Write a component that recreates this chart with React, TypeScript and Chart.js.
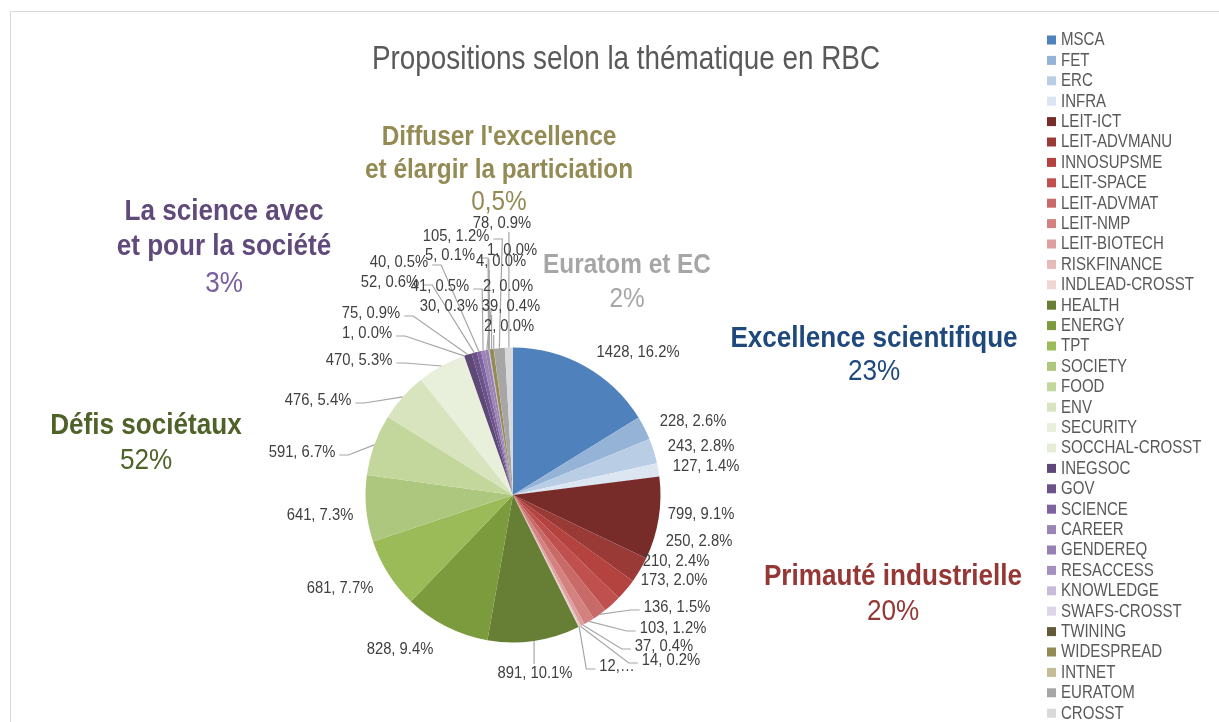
import React, { useEffect, useRef } from "react";
import { Chart, registerables } from "chart.js";

Chart.register(...registerables);

// ---------- DATA ----------
const categories = [
  "MSCA", "FET", "ERC", "INFRA",
  "LEIT-ICT", "LEIT-ADVMANU", "INNOSUPSME", "LEIT-SPACE", "LEIT-ADVMAT", "LEIT-NMP", "LEIT-BIOTECH", "RISKFINANCE", "INDLEAD-CROSST",
  "HEALTH", "ENERGY", "TPT", "SOCIETY", "FOOD", "ENV", "SECURITY", "SOCCHAL-CROSST",
  "INEGSOC", "GOV", "SCIENCE", "CAREER", "GENDEREQ", "RESACCESS", "KNOWLEDGE", "SWAFS-CROSST",
  "TWINING", "WIDESPREAD", "INTNET",
  "EURATOM", "CROSST",
];

const values = [
  1428, 228, 243, 127,
  799, 250, 210, 173, 136, 103, 37, 14, 12,
  891, 828, 681, 641, 591, 476, 470, 1,
  75, 52, 40, 41, 30, 5, 1, 4,
  2, 39, 2,
  105, 78,
];

const colors = [
  "#4F81BD", "#95B3D7", "#B9CDE5", "#DCE6F2",
  "#772C2A", "#993A37", "#B4423F", "#C0504D", "#C86A67", "#D3827F", "#DDA09E", "#E6BAB9", "#F0D6D5",
  "#677F34", "#7B9B3C", "#9BBB59", "#ADC87E", "#C3D69B", "#D7E4BD", "#E8EFDA", "#E6EDD7",
  "#5D4878", "#6B5389", "#7E63A0", "#9A85B5", "#9780B2", "#A690C0", "#C8BBDA", "#DDD6E8",
  "#625A38", "#948A54", "#C4BD97",
  "#A6A6A6", "#D9D9D9",
];

// groups of categories (first index, end index exclusive)
const groupNames = [
  ["Excellence scientifique"],
  ["Primauté industrielle"],
  ["Défis sociétaux"],
  ["La science avec", "et pour la société"],
  ["Diffuser l'excellence", "et élargir la particiation"],
  ["Euratom et EC"],
];
const groupRanges = [[0, 4], [4, 13], [13, 21], [21, 29], [29, 32], [32, 34]];
const groupDecimals = [0, 0, 0, 0, 1, 0];

const titleText = "Propositions selon la thématique en RBC";

// ---------- LAYOUT / STYLE ----------
// data label centres
const labelPos: [number, number][] = [
  [638, 352], [693, 421], [701, 446], [706, 466],
  [701, 514], [699, 541], [676, 561], [674, 580], [677, 607], [673, 628], [664, 646], [671, 660], [617, 666],
  [535, 673], [400, 649], [340, 588], [320, 515], [302, 452], [318, 400], [359, 360], [367, 333],
  [371, 313], [390, 282], [399, 262], [440, 286], [449, 306], [450, 255], [512, 250], [501, 261],
  [508, 286], [511, 306], [509, 326],
  [456, 236], [502, 223],
];
const leader = [
  false, false, false, false,
  false, false, false, false, true, true, true, true, true,
  true, false, false, false, true, true, true, true,
  true, true, true, true, true, true, true, true,
  true, true, true,
  true, true,
];
const truncated = [12];

const groupStyle = [
  { x: 874, y: [347, 380], color: "#1F497D", pctColor: "#1F497D", size: 30 },
  { x: 893, y: [585, 620], color: "#953735", pctColor: "#953735", size: 30 },
  { x: 146, y: [434, 469], color: "#4F6228", pctColor: "#4F6228", size: 30 },
  { x: 224, y: [220, 255, 292], color: "#604A7B", pctColor: "#7A5FA0", size: 30 },
  { x: 499, y: [145, 178, 210], color: "#948A54", pctColor: "#948A54", size: 28 },
  { x: 627, y: [273, 307], color: "#A6A6A6", pctColor: "#A6A6A6", size: 28 },
];

const FONT = "'Liberation Sans', Arial, sans-serif";
const SX = 0.87;

function drawText(
  ctx: CanvasRenderingContext2D,
  text: string,
  x: number,
  y: number,
  font: string,
  color: string,
  align: CanvasTextAlign = "center",
  baseline: CanvasTextBaseline = "middle",
  sx: number = SX
) {
  ctx.save();
  ctx.font = font;
  ctx.fillStyle = color;
  ctx.textAlign = align;
  ctx.textBaseline = baseline;
  ctx.translate(x, y);
  ctx.scale(sx, 1);
  ctx.fillText(text, 0, 0);
  ctx.restore();
}

const total = values.reduce((a, b) => a + b, 0);

const decorPlugin = {
  id: "decor",
  beforeDraw(chart: any) {
    const ctx: CanvasRenderingContext2D = chart.ctx;
    ctx.save();
    ctx.fillStyle = "#FFFFFF";
    ctx.fillRect(0, 0, chart.width, chart.height);
    ctx.strokeStyle = "#D9D9D9";
    ctx.lineWidth = 1;
    ctx.strokeRect(10.5, 11.5, 1400, 900);
    ctx.restore();
  },
  afterDraw(chart: any) {
    const ctx: CanvasRenderingContext2D = chart.ctx;

    // title
    ctx.save();
    ctx.font = `34px ${FONT}`;
    const tw = ctx.measureText(titleText).width;
    ctx.restore();
    drawText(ctx, titleText, 626, 69, `34px ${FONT}`, "#595959", "center", "alphabetic", 508 / tw);

    // leader lines + data labels
    const meta = chart.getDatasetMeta(0);
    const labelFont = `17px ${FONT}`;
    meta.data.forEach((arc: any, i: number) => {
      const p = arc.getProps(["x", "y", "startAngle", "endAngle", "outerRadius"], true);
      const mid = (p.startAngle + p.endAngle) / 2;
      const px = p.x + Math.cos(mid) * p.outerRadius;
      const py = p.y + Math.sin(mid) * p.outerRadius;
      const v = values[i];
      const pct = ((v / total) * 100).toFixed(1);
      const text = truncated.includes(i) ? `${v},…` : `${v}, ${pct}%`;
      const [cx, cy] = labelPos[i];
      ctx.save();
      ctx.font = labelFont;
      const w = ctx.measureText(text).width * SX;
      ctx.restore();
      if (leader[i]) {
        const left = cx - w / 2 - 4;
        const right = cx + w / 2 + 4;
        const top = cy - 9;
        const bottom = cy + 9;
        ctx.save();
        ctx.strokeStyle = "#A6A6A6";
        ctx.lineWidth = 1.2;
        ctx.beginPath();
        if (px > right) {
          ctx.moveTo(right, cy + 3);
          ctx.lineTo(right + 9, cy + 3);
        } else if (px < left) {
          ctx.moveTo(left, cy + 3);
          ctx.lineTo(left - 9, cy + 3);
        } else if (py > bottom) {
          ctx.moveTo(px, bottom);
        } else {
          ctx.moveTo(px, top);
        }
        ctx.lineTo(px, py);
        ctx.stroke();
        ctx.restore();
      }
    });
    meta.data.forEach((_arc: any, i: number) => {
      const v = values[i];
      const pct = ((v / total) * 100).toFixed(1);
      const text = truncated.includes(i) ? `${v},…` : `${v}, ${pct}%`;
      const [cx, cy] = labelPos[i];
      drawText(ctx, text, cx, cy, labelFont, "#404040");
    });

    // group labels
    groupNames.forEach((lines, g) => {
      const st = groupStyle[g];
      const [a, b] = groupRanges[g];
      let sum = 0;
      for (let k = a; k < b; k++) sum += values[k];
      const pctVal = ((sum / total) * 100).toFixed(groupDecimals[g]).replace(".", ",");
      lines.forEach((ln, li) => {
        drawText(ctx, ln, st.x, st.y[li], `bold ${st.size}px ${FONT}`, st.color, "center", "alphabetic");
      });
      drawText(ctx, `${pctVal}%`, st.x, st.y[lines.length], `${st.size}px ${FONT}`, st.pctColor, "center", "alphabetic");
    });

    // legend
    const legFont = `17.5px ${FONT}`;
    categories.forEach((c, i) => {
      const y = 40 + i * 20.4;
      ctx.save();
      ctx.fillStyle = colors[i];
      ctx.fillRect(1047, y - 4.5, 9, 9);
      ctx.restore();
      drawText(ctx, c, 1061, y + 0.5, legFont, "#595959", "left", "middle", 0.86);
    });
  },
};

export default function App() {
  const ref = useRef<HTMLCanvasElement>(null);
  useEffect(() => {
    document.body.style.margin = "0";
    document.body.style.overflow = "hidden";
    const chart = new Chart(ref.current!, {
      type: "pie",
      data: {
        labels: categories,
        datasets: [
          {
            data: values,
            backgroundColor: colors,
            borderWidth: 0,
          },
        ],
      },
      options: {
        responsive: false,
        animation: false,
        layout: { padding: { left: 365.5, top: 347.5, right: 558.5, bottom: 79.5 } },
        plugins: {
          legend: { display: false },
          tooltip: { enabled: false },
          title: { display: false },
        },
      },
      plugins: [decorPlugin],
    } as any);
    return () => chart.destroy();
  }, []);
  return (
    <div style={{ position: "fixed", left: 0, top: 0, width: 1219, height: 722, overflow: "hidden", background: "#fff" }}>
      <canvas ref={ref} width={1219} height={722} style={{ display: "block", width: 1219, height: 722 }} />
    </div>
  );
}
